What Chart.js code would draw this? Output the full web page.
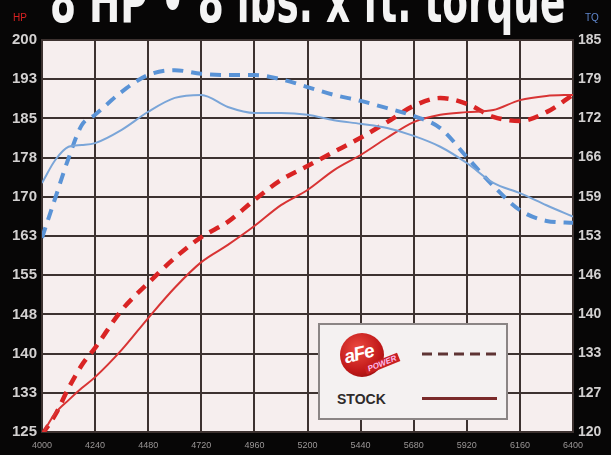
<!DOCTYPE html>
<html>
<head>
<meta charset="utf-8">
<script src="https://cdn.jsdelivr.net/npm/chart.js@4.4.1/dist/chart.umd.min.js"></script>
<style>
  html, body { margin: 0; padding: 0; background: #070606; overflow: hidden; }
  #wrap { position: relative; width: 611px; height: 455px; }
  #title {
    position: absolute; left: 50px; top: -29px; white-space: nowrap;
    font-family: "Liberation Sans Narrow", "DejaVu Sans Condensed", Arial, sans-serif;
    font-weight: bold; font-size: 60px; line-height: 60px; color: #f4f4f4;
    transform-origin: 0 0;
  }
  .axisTag { position: absolute; top: 12px; font-family: "Liberation Sans", Arial, sans-serif; font-size: 10px; }
  #legendBox {
    position: absolute; left: 318px; top: 323px; width: 186px; height: 93px;
    background: #f4f1f1; border: 2px solid #8b8585;
    font-family: "Liberation Sans", Arial, sans-serif;
  }
  #logo {
    position: absolute; left: 20px; top: 8px; width: 44px; height: 44px; border-radius: 50%;
    background: radial-gradient(circle at 40% 35%, #ec4a40, #c01818 60%, #7c0b0b);
  }
  #logo .afe {
    position: absolute; left: 4px; top: 10px; color: #fff; font-weight: bold; font-style: italic;
    font-size: 19px; transform: rotate(-14deg); letter-spacing: -1px;
  }
  #power {
    position: absolute; left: 44px; top: 34px; padding: 0 3px; background: #c82020; color: #fbe;
    font-weight: bold; font-style: italic; font-size: 8px; transform: rotate(-22deg);
  }
  #stock { position: absolute; left: 17px; top: 66px; font-weight: bold; font-size: 14px; color: #2e2a2a; }
</style>
</head>
<body>
<div id="wrap">
  <canvas id="dyno" width="611" height="455"></canvas>
  <div id="title">8 HP • 8 lbs. x ft. torque</div>
  <div class="axisTag" style="left:13px;color:#d82222">HP</div>
  <div class="axisTag" style="left:585px;color:#5f86cc">TQ</div>
  <div id="legendBox">
    <div id="logo"><span class="afe">aFe</span></div>
    <div id="power">POWER</div>
    <svg style="position:absolute;left:102px;top:26px" width="80" height="6">
      <line x1="0" y1="3" x2="78" y2="3" stroke="#5e3434" stroke-width="3" stroke-dasharray="10,6"/>
    </svg>
    <div id="stock">STOCK</div>
    <div style="position:absolute;left:102px;top:72px;width:75px;height:3px;background:#7a2a2a"></div>
  </div>
</div>
<script>
// dyno pull data
const rpm = [4000, 4060, 4120, 4180, 4240, 4360, 4480, 4600, 4720, 4840, 4960, 5080,
             5200, 5320, 5440, 5560, 5680, 5800, 5920, 6040, 6160, 6280, 6400];

const afeHp   = [124.5, 128.3, 133.4, 137.8, 141.1, 148.3, 153.5, 158.3, 162.3, 165.2, 169.4, 173.2,
                 175.9, 178.6, 181.3, 184.3, 187.4, 188.9, 187.8, 185.3, 184.5, 186.2, 189.5];
const stockHp = [124.5, 128.6, 131.1, 133.4, 135.5, 140.7, 146.8, 152.6, 157.5, 160.8, 164.4, 168.4,
                 171.3, 175.1, 178.0, 181.3, 184.3, 185.7, 186.2, 186.6, 188.5, 189.3, 189.5];
const afeTq   = [152.2, 158.8, 165.4, 170.9, 172.6, 176.4, 179.2, 180.0, 179.4, 179.2, 179.2, 178.5,
                 177.2, 175.9, 174.9, 173.7, 172.4, 170.4, 165.6, 160.8, 156.8, 155.0, 154.7];
const stockTq = [161.3, 165.1, 167.3, 167.6, 167.9, 170.1, 173.1, 175.4, 175.9, 173.9, 172.9, 172.9,
                 172.6, 171.7, 171.1, 170.4, 169.1, 167.3, 164.6, 161.3, 159.6, 157.6, 155.7];

const hpTicks = { min: 125, max: 200, step: 7.5 };
const tqTicks = { min: 120, max: 185, step: 6.5 };

const GRID = "#3d3230";
const pts = (ys) => ys.map((y, i) => ({ x: rpm[i], y }));

// title: squeeze to the width of the printed heading
const title = document.getElementById("title");
title.style.transform = "scaleX(" + (515 / title.offsetWidth) + ")";

const plotBg = {
  id: "plotBg",
  beforeDraw(chart) {
    const { ctx, chartArea: a } = chart;
    ctx.save();
    ctx.fillStyle = "#f6eeee";
    ctx.fillRect(a.left, a.top, a.width, a.height);
    ctx.restore();
  },
};

const line = (data, axis, color, width, dash) => ({
  data: pts(data),
  yAxisID: axis,
  borderColor: color,
  borderWidth: width,
  borderDash: dash,
  pointRadius: 0,
  fill: false,
  cubicInterpolationMode: "monotone",
});

new Chart(document.getElementById("dyno"), {
  type: "line",
  data: {
    datasets: [
      line(stockTq, "tq", "#7aa5d8", 2, []),
      line(afeTq, "tq", "#5a93d6", 4, [11, 8]),
      line(stockHp, "hp", "#d83434", 2, []),
      line(afeHp, "hp", "#d92424", 4.5, [11, 8]),
    ],
  },
  options: {
    responsive: false,
    animation: false,
    layout: { padding: { top: 40, left: 0, right: 0, bottom: 0 } },
    plugins: { legend: { display: false }, title: { display: false }, tooltip: { enabled: false } },
    scales: {
      x: {
        type: "linear",
        min: 4000, max: 6400,
        afterFit: (s) => { s.height = 23; },
        ticks: {
          stepSize: 240, color: "#9a9696", font: { size: 9, family: "Liberation Sans" },
          padding: 8, maxRotation: 0, callback: (v) => String(v),
        },
        grid: { color: GRID, lineWidth: 2, drawTicks: false },
        border: { color: GRID, width: 2 },
      },
      hp: {
        position: "left",
        min: hpTicks.min, max: hpTicks.max,
        afterFit: (s) => { s.width = 42; },
        ticks: {
          stepSize: hpTicks.step, padding: 5, color: "#d2d0d0",
          font: { size: 15, family: "Liberation Sans", weight: "bold" },
          callback: (v) => Math.round(v),
        },
        grid: { color: GRID, lineWidth: 2, drawTicks: false },
        border: { color: GRID, width: 2 },
      },
      tq: {
        position: "right",
        min: tqTicks.min, max: tqTicks.max,
        afterFit: (s) => { s.width = 38; },
        ticks: {
          stepSize: tqTicks.step, padding: 5, color: "#d2d0d0",
          font: { size: 14, family: "Liberation Sans", weight: "bold" },
          callback: (v) => Math.round(v),
        },
        grid: { drawOnChartArea: false, drawTicks: false },
        border: { color: GRID, width: 2 },
      },
    },
  },
  plugins: [plotBg],
});
</script>
</body>
</html>
